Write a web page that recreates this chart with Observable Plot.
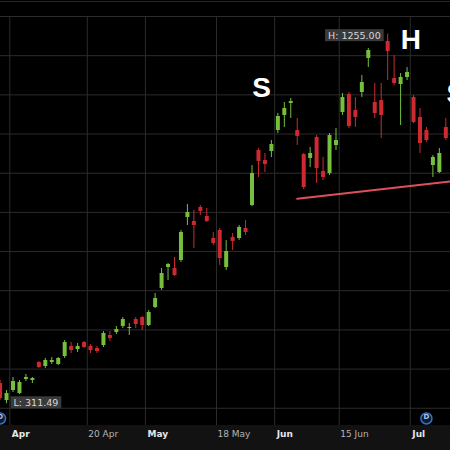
<!DOCTYPE html>
<html>
<head>
<meta charset="utf-8">
<script src="https://cdn.jsdelivr.net/npm/d3@7"></script>
<script src="https://cdn.jsdelivr.net/npm/@observablehq/plot@0.6"></script>
<style>
  html, body { margin: 0; padding: 0; background: #000; }
  #chart {
    width: 450px; height: 450px; overflow: hidden;
    background: linear-gradient(to bottom, #000 0px, #000 1px, #262626 1px, #262626 2px, #000 2px, #000 425px, #121212 425px, #121212 450px);
  }
  #chart svg { display: block; }
</style>
</head>
<body>
<div id="chart"></div>
<script>
// Daily candles (trading-day index 0..70)
const opens  = [363.1,319.8,345.3,337.6,373.4,370.8,416.8,406.5,416.8,411.7,432.1,457.6,450.0,467.8,457.6,452.5,460.2,485.7,493.3,508.7,503.6,526.5,531.6,511.2,557.1,605.7,659.3,656.7,677.1,786.9,776.7,812.4,789.5,733.3,753.7,659.3,735.9,733.3,758.8,817.5,957.9,932.4,955.4,1009.0,1047.3,1078.0,1009.0,947.7,937.5,991.1,904.3,899.2,970.7,1054.9,1100.9,1060.0,1106.0,1192.8,1080.5,1085.5,1236.2,1141.7,1126.4,1144.3,1093.2,1042.2,1009.0,919.6,901.8,1016.6,965.6];
const highs  = [370.8,345.3,378.5,370.8,386.2,378.5,419.3,427.0,429.5,429.5,472.9,467.8,465.3,470.4,462.7,457.6,495.9,495.9,508.7,531.6,516.3,531.6,534.2,549.5,592.9,656.7,669.5,684.8,753.7,820.1,804.8,817.5,809.9,748.6,758.8,728.2,746.1,766.5,779.2,919.6,963.0,950.3,983.4,1052.4,1080.5,1090.6,1039.6,950.3,965.6,996.2,940.1,1001.3,1014.1,1103.4,1106.0,1093.2,1149.4,1218.3,1129.0,1129.0,1255.0,1200.4,1154.5,1169.8,1098.3,1065.1,1016.6,945.2,963.0,1039.6,988.5];
const lows   = [319.8,311.49,340.2,335.1,368.3,363.1,401.5,401.5,411.7,409.1,427.0,439.8,442.3,452.5,439.8,439.8,455.1,470.4,488.2,503.6,485.7,503.6,498.5,508.7,554.6,600.6,626.1,636.3,672.0,766.5,707.8,792.0,774.1,715.4,664.4,651.6,702.7,728.2,741.0,815.0,889.0,901.8,940.1,1001.3,1016.6,1039.6,970.7,858.3,914.5,873.7,881.3,894.1,957.9,1047.3,1014.1,1016.6,1093.2,1169.8,1039.6,988.5,1136.6,1123.9,1021.7,1136.6,1026.8,950.3,978.6,889.0,899.2,983.4,957.9];
const closes = [324.9,337.6,368.3,365.7,378.5,375.9,404.0,421.9,421.9,427.0,467.8,447.4,457.6,455.1,447.4,444.8,490.8,478.0,501.0,526.5,506.1,513.8,511.2,544.4,580.1,644.0,666.9,638.9,748.6,799.7,766.5,802.2,776.7,720.6,682.2,700.1,725.6,761.4,748.6,899.2,929.9,922.2,973.2,1044.7,1065.1,1083.0,993.7,863.5,950.3,912.0,889.0,996.2,983.4,1093.2,1019.2,1042.2,1131.5,1213.2,1052.4,1047.3,1210.6,1129.0,1144.3,1157.0,1029.4,975.8,983.4,940.1,950.3,988.5,978.6];

// Date axis (candle index of each labelled day)
const tickIndex  = [2, 14, 23, 34, 43, 53, 64];
const tickLabels = ["Apr", "20 Apr", "May", "18 May", "Jun", "15 Jun", "Jul"];
const tickBold   = [true, false, true, false, true, false, true];

// Price grid
const priceGrid = [300, 400, 500, 600, 700, 800, 900, 1000, 1100, 1200, 1300];

// Head-and-shoulders annotation
const patternLabels = ["S", "H", "S"];
const patternIndex  = [40.47, 63.6, 70.56];
const patternPrice  = [1117, 1240, 1102];
const necklineIndex = [46, 70];
const necklinePrice = [834.6, 879.3];

// Dividend markers
const dividendIndex = [0, 66];

const green = "#76bf3e";
const red = "#cc2a30";
const gridColor = "#2c2c2c";

const candles = opens.map((o, i) => ({i, o, h: highs[i], l: lows[i], c: closes[i]}));
const up = candles.filter(d => d.c >= d.o);
const down = candles.filter(d => d.c < d.o);
const neckline = necklineIndex.map((i, j) => ({i, p: necklinePrice[j]}));
const pattern = patternLabels.map((t, j) => ({t, i: patternIndex[j], p: patternPrice[j]}));
const ticks = tickIndex.map((i, j) => ({i, label: tickLabels[j], bold: tickBold[j]}));

const hiIdx = d3.maxIndex(highs);
const loIdx = d3.minIndex(lows);
const hiLabel = [{i: hiIdx, p: highs[hiIdx], t: "H: " + highs[hiIdx].toFixed(2)}];
const loLabel = [{i: loIdx, p: lows[loIdx], t: "L: " + lows[loIdx].toFixed(2)}];

const plot = Plot.plot({
  width: 450,
  height: 450,
  marginTop: 16,
  marginBottom: 25,
  marginLeft: 0,
  marginRight: 0,
  style: {background: "transparent", fontFamily: "'DejaVu Sans', Verdana, sans-serif", overflow: "hidden"},
  x: {type: "linear", domain: [0.065, 69.725], axis: null},
  y: {domain: [256, 1300], axis: null},
  marks: [
    Plot.ruleY(priceGrid, {stroke: gridColor, strokeWidth: 1}),
    Plot.ruleX(ticks, {x: d => d.i - 0.5, stroke: gridColor, strokeWidth: 1}),
    Plot.line(neckline, {x: "i", y: "p", stroke: "#e0505a", strokeWidth: 2}),
    Plot.ruleX(up, {x: "i", y1: "l", y2: "h", stroke: green, strokeWidth: 1}),
    Plot.ruleX(down, {x: "i", y1: "l", y2: "h", stroke: red, strokeWidth: 1}),
    Plot.ruleX(up, {x: "i", y1: "o", y2: "c", stroke: green, strokeWidth: 4}),
    Plot.ruleX(down, {x: "i", y1: "o", y2: "c", stroke: red, strokeWidth: 4}),
    Plot.text(pattern, {x: "i", y: "p", text: "t", fill: "#ffffff", fontSize: 28, fontWeight: "bold", fontFamily: "'Liberation Sans', Arial, sans-serif"}),
    Plot.text(hiLabel, {x: "i", y: "p", text: "t", textAnchor: "end", dx: -7, dy: 1.5, fill: "#d8d8d8", fontSize: 9.5, ariaLabel: "extreme-label"}),
    Plot.text(loLabel, {x: "i", y: "p", text: "t", textAnchor: "start", dx: 7, dy: -1, fill: "#d8d8d8", fontSize: 9.5, ariaLabel: "extreme-label"}),
    Plot.dot(dividendIndex, {x: d => d, frameAnchor: "bottom", dy: -7, r: 5.5, stroke: "#3b6fc4", strokeWidth: 1.5, fill: "#0c1c36"}),
    Plot.text(dividendIndex, {x: d => d, frameAnchor: "bottom", dy: -7, text: () => "D", fill: "#a8c4ee", fontSize: 7, fontWeight: "bold"}),
    Plot.text(ticks.filter(d => d.bold), {x: d => d.i - 0.5, text: "label", frameAnchor: "bottom", dy: 11, dx: 2, textAnchor: "start", fill: "#e6e6e6", fontSize: 9, fontWeight: "bold"}),
    Plot.text(ticks.filter(d => !d.bold), {x: d => d.i - 0.5, text: "label", frameAnchor: "bottom", dy: 11, dx: 1, textAnchor: "start", fill: "#b4b4b4", fontSize: 9})
  ]
});

document.getElementById("chart").appendChild(plot);

// Gray boxes behind the high / low labels
plot.querySelectorAll("text").forEach(t => {
  const s = t.textContent;
  if (!(s.startsWith("H: ") || s.startsWith("L: "))) return;
  const b = t.getBBox();
  const r = document.createElementNS("http://www.w3.org/2000/svg", "rect");
  r.setAttribute("x", b.x - 3);
  r.setAttribute("y", b.y - 0.5);
  r.setAttribute("width", b.width + 6);
  r.setAttribute("height", b.height + 1);
  r.setAttribute("fill", "#3a3a3a");
  const tr = t.getAttribute("transform");
  if (tr) r.setAttribute("transform", tr);
  t.parentNode.insertBefore(r, t);
});
</script>
</body>
</html>
